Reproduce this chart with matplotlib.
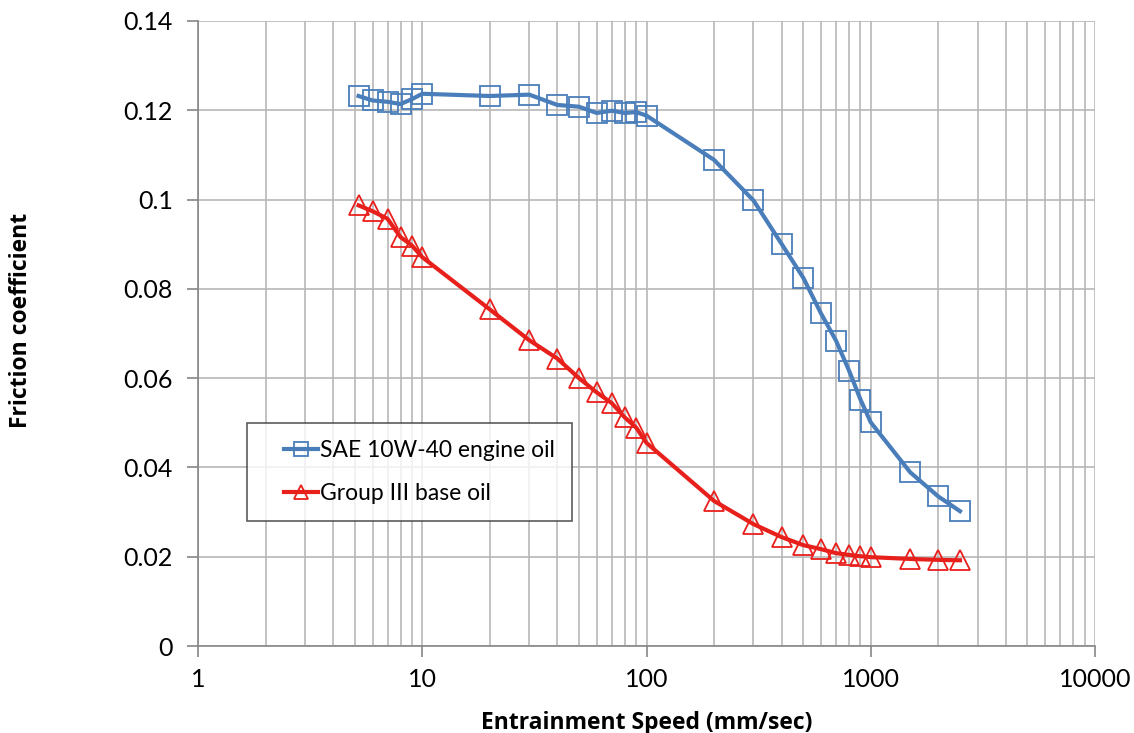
import matplotlib.pyplot as plt
from matplotlib.ticker import LogLocator, FixedLocator, FuncFormatter
from matplotlib.legend_handler import HandlerLine2D
import numpy as np

# entrainment speed (mm/s) and friction coefficient for each oil
speed = [5.2, 6, 7, 8, 9, 10, 20, 30, 40, 50, 60, 70, 80, 90, 100,
         200, 300, 400, 500, 600, 700, 800, 900, 1000, 1500, 2000, 2500]
sae_10w40 = [0.1232, 0.1222, 0.1219, 0.1214, 0.1225, 0.1237, 0.1232, 0.1235,
             0.1212, 0.1208, 0.1194, 0.1199, 0.1194, 0.1196, 0.1188,
             0.1089, 0.0998, 0.0901, 0.0825, 0.0745, 0.0684, 0.0617,
             0.0552, 0.0501, 0.0389, 0.0335, 0.0302]
group3 = [0.0987, 0.0974, 0.0957, 0.0916, 0.0897, 0.0871, 0.0754, 0.0685,
          0.0644, 0.0600, 0.0568, 0.0544, 0.0512, 0.0489, 0.0455,
          0.0325, 0.0273, 0.0244, 0.0226, 0.0217, 0.0208, 0.0204,
          0.0201, 0.0199, 0.0195, 0.0193, 0.0192]
labels = ['SAE 10W-40 engine oil', 'Group III base oil']

tick_font = ['Lato', 'DejaVu Sans']
label_font = ['Open Sans', 'DejaVu Sans']

fig = plt.figure(figsize=(11.34, 7.33), dpi=100)
ax = fig.add_axes([198 / 1134, 1 - 646 / 733, (1095 - 198) / 1134, (646 - 21) / 733])

l1, = ax.plot(speed, sae_10w40, color='#4a7ebb', lw=3, marker='s', ms=14,
              mfc='none', mec='#4a7ebb', mew=1.3, label=labels[0], zorder=3)
l2, = ax.plot(speed, group3, color='#e8201c', lw=3, marker='^', ms=14,
              mfc='none', mec='#e8201c', mew=1.3, label=labels[1], zorder=3)

ax.set_xscale('log')
ax.set_xlim(1, 10000)
ax.set_ylim(0, 0.14)
ax.yaxis.set_major_locator(FixedLocator(np.arange(0, 0.141, 0.02)))
ax.yaxis.set_major_formatter(FuncFormatter(lambda v, p: '0' if v == 0 else f'{v:.2f}'.rstrip('0') if abs(v - 0.1) < 1e-9 else f'{v:.2f}'))
ax.xaxis.set_major_locator(LogLocator(base=10, numticks=10))
ax.xaxis.set_minor_locator(LogLocator(base=10, subs=np.arange(2, 10), numticks=100))
ax.xaxis.set_major_formatter(FuncFormatter(lambda v, p: f'{v:.0f}'))

ax.grid(True, which='major', color='#b8b8b8', lw=1.2)
ax.grid(True, which='minor', axis='x', color='#b8b8b8', lw=1.2)
ax.set_axisbelow(True)

for s in ['top', 'right']:
    ax.spines[s].set_visible(False)
for s in ['left', 'bottom']:
    ax.spines[s].set_color('#868686')
    ax.spines[s].set_linewidth(1.2)
ax.tick_params(axis='both', which='major', length=8, width=1.2, color='#868686',
               labelsize=18, pad=10)
ax.tick_params(axis='x', which='minor', length=0)
ax.tick_params(axis='x', which='major', pad=8)
for t in ax.get_xticklabels() + ax.get_yticklabels():
    t.set_family(tick_font)

ax.set_xlabel('Entrainment Speed (mm/sec)', fontsize=16.5, fontweight='bold',
              family=label_font, labelpad=14)
fig.text(21 / 1134, 1 - 320 / 733, 'Friction coefficient', rotation=90,
         fontsize=16.5, fontweight='bold', family=label_font, ha='center', va='center')

# push the legend keys in from the frame edge
hmap = {l1: HandlerLine2D(xpad=0.85), l2: HandlerLine2D(xpad=0.85)}
leg = ax.legend(loc='lower left', bbox_to_anchor=((247 - 198) / 897, (646 - 521) / 625),
                frameon=True, fancybox=False, borderpad=0.75,
                labelspacing=0.95, handlelength=2.35, handletextpad=0.1,
                borderaxespad=0, handler_map=hmap,
                prop={'family': tick_font, 'size': 16.5})
leg.get_frame().set_edgecolor('#333333')
leg.get_frame().set_linewidth(1.2)
for h in leg.legend_handles:
    h.set_markersize(10)

fig.savefig('out.png', dpi=100)
